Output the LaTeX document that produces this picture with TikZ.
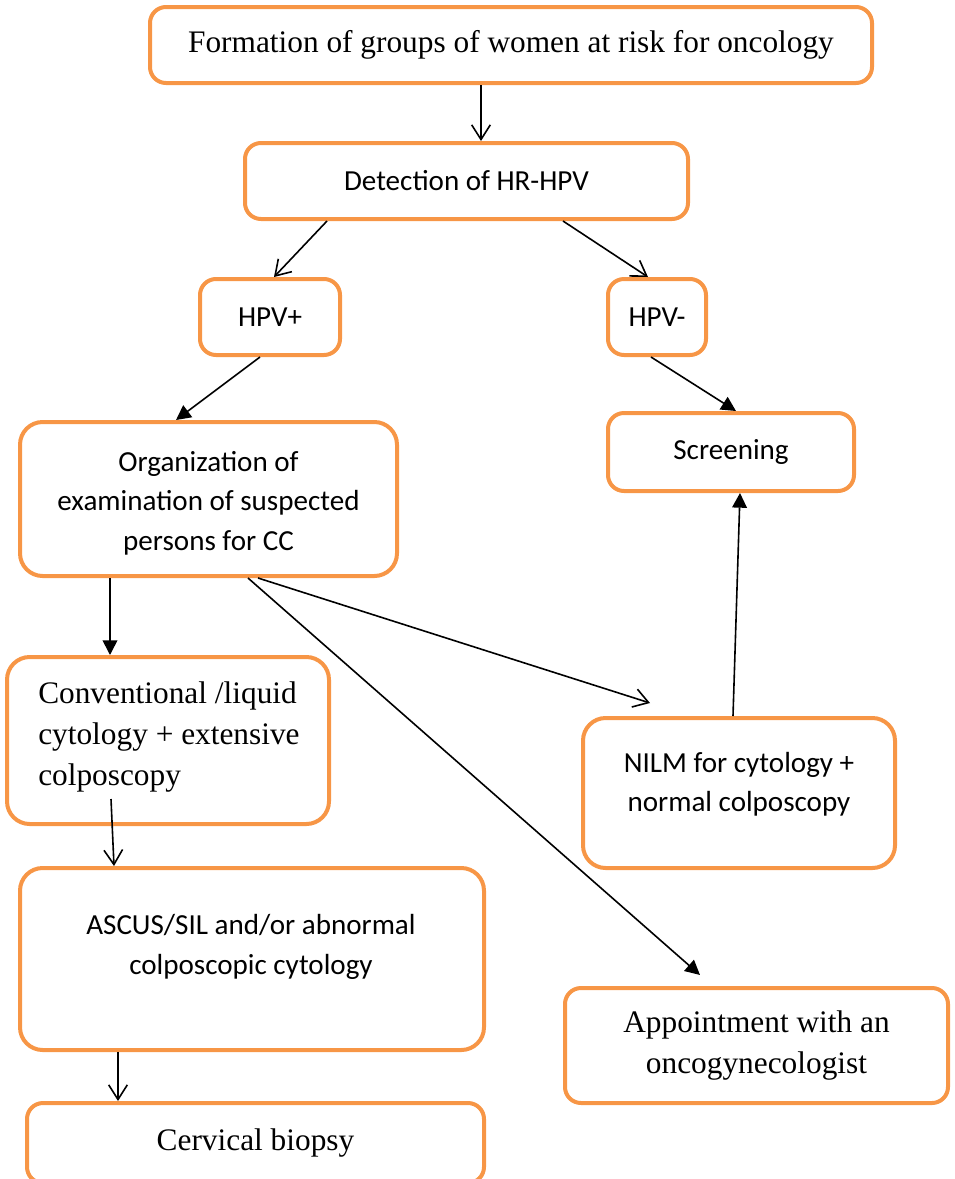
\documentclass[tikz,border=0pt]{standalone}
\usepackage{fontspec}
\setmainfont{Liberation Serif}
\newfontfamily\calibri{Carlito}
\usetikzlibrary{arrows.meta,calc}
\definecolor{boxorange}{HTML}{F79646}
\begin{document}
\begin{tikzpicture}[x=0.75pt,y=-0.75pt,
  box/.style={draw=boxorange,line width=3pt,rounded corners=12pt,inner sep=0pt},
  bigbox/.style={box,rounded corners=17pt},
  tms/.style={font=\fontsize{23.5}{30.5}\selectfont,align=center},
  cal/.style={font=\calibri\fontsize{21.8}{29.5}\selectfont,align=center},
  openarr/.style={line width=1.2pt,-{Straight Barb[length=11pt,width=14pt,line width=1.2pt]}},
  fillarr/.style={line width=1.2pt,-{Triangle[length=11pt,width=11pt]}}
]
\useasboundingbox (0,0) rectangle (954,1179);
\clip (0,0) rectangle (954,1179);
\node[box,tms,minimum width=541.5pt,minimum height=57pt] (form) at (511,45) {Formation of groups of women at risk for oncology};
\node[box,cal,minimum width=332.25pt,minimum height=57pt] (det) at (466.5,181) {Detection of HR-HPV};
\node[box,cal,minimum width=105pt,minimum height=57pt] (hpvp) at (270,317) {HPV+};
\node[box,cal,minimum width=73.5pt,minimum height=57pt] (hpvm) at (657,317) {HPV-};
\node[bigbox,minimum width=282.75pt,minimum height=115.5pt] (org) at (208.5,499) {};
\node[cal] (orgtext) at (208.5,503) {Organization of\\examination of suspected\\persons for CC};
\node[box,cal,minimum width=184.5pt,minimum height=58.5pt] (scr) at (731,452) {Screening};
\node[bigbox,minimum width=241.5pt,minimum height=125.25pt] (conv) at (168,740.5) {};
\node[tms,align=left,anchor=west,inner sep=0pt] (convtext) at (38,737) {Conventional /liquid\\cytology + extensive\\colposcopy};
\node[bigbox,minimum width=234pt,minimum height=112.5pt] (nilm) at (739,793) {};
\node[cal] (nilmtext) at (739,784) {NILM for cytology +\\normal colposcopy};
\node[bigbox,minimum width=348pt,minimum height=136.5pt] (ascus) at (252,959) {};
\node[cal] (ascustext) at (251,947) {ASCUS/SIL and/or abnormal\\colposcopic cytology};
\node[box,tms,minimum width=287.25pt,minimum height=86.25pt] (app) at (756.5,1045.5) {Appointment with an\\oncogynecologist};
\node[box,tms,minimum width=342.75pt,minimum height=60pt] (cerv) at (255.5,1143) {Cervical biopsy};

\draw[openarr] ($(form.south west)+(333,0)$) -- ($(det.north west)+(238,0)$);
\draw[openarr] ($(det.south west)+(84,0)$) -- ($(hpvp.north west)+(76,0)$);
\draw[openarr] ($(det.south west)+(320,0)$) -- ($(hpvm.north west)+(42,0)$);
\draw[fillarr] ($(hpvp.south west)+(62,0)$) -- ($(org.north west)+(158,0)$);
\draw[fillarr] ($(hpvm.south west)+(45,0)$) -- ($(scr.north west)+(130,0)$);
\draw[fillarr] ($(org.south west)+(92,0)$) -- ($(conv.north west)+(105,0)$);
\draw[openarr] ($(org.south west)+(240,0)$) -- ($(nilm.north west)+(69,-13)$);
\draw[fillarr] ($(nilm.north west)+(152,0)$) -- ($(scr.south west)+(134,0)$);
\draw[fillarr] ($(org.south west)+(230,0)$) -- ($(app.north west)+(137,-11)$);
\draw[openarr] ($(conv.south west)+(106,-27)$) -- ($(ascus.north west)+(96,0)$);
\draw[openarr] ($(ascus.south west)+(100,0)$) -- ($(cerv.north west)+(93,0)$);
\end{tikzpicture}
\end{document}
